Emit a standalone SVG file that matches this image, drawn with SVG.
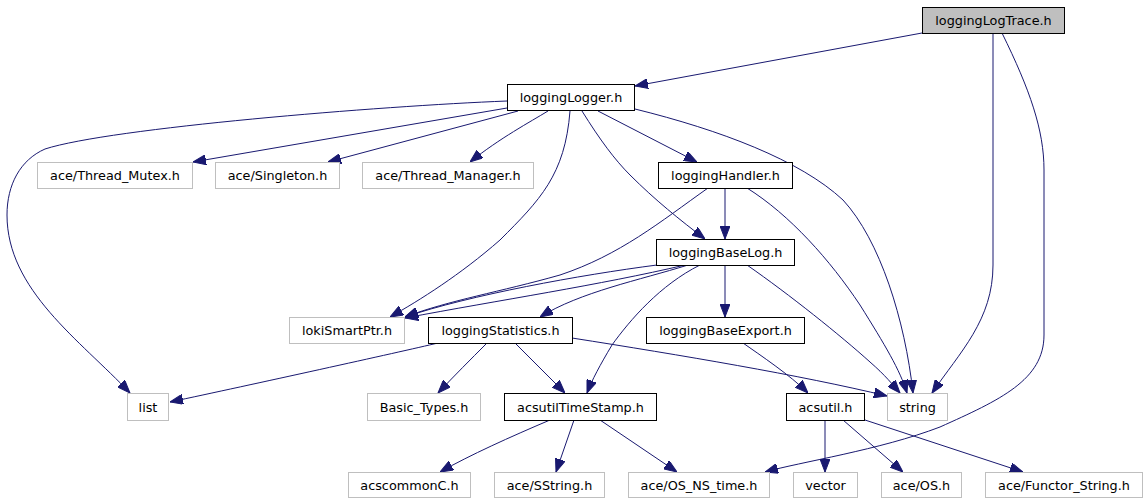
<svg xmlns="http://www.w3.org/2000/svg" width="1148" height="504" viewBox="0 0 1148 504">
<style>
.n rect{fill:#fff;stroke:#000;stroke-width:1}
.u rect{fill:#fff;stroke:#bfbfbf;stroke-width:1}
.r rect{fill:#bfbfbf;stroke:#000;stroke-width:1}
text{font-family:"DejaVu Sans",sans-serif;font-size:12.8px;fill:#000;text-anchor:middle}
#edges path{fill:none;stroke:#191970;stroke-width:1;marker-end:url(#a)}
</style>
<defs>
<marker id="a" markerUnits="userSpaceOnUse" markerWidth="13" markerHeight="10" refX="13" refY="5" orient="auto">
<path d="M0,0 L13,5 L0,10 z" fill="#191970" stroke="#191970" stroke-width="1"/>
</marker>
</defs>
<rect width="1148" height="504" fill="#fff"/>
<g id="edges">
<path d="M922,33 L635,86"/>
<path d="M993,33 L993,265 C993,320 960,352 932,393"/>
<path d="M1002,33 C1030,90 1044,130 1044,170 L1044,335 C1044,380 1000,400 940,427 C880,450 800,462 765,472"/>
<path d="M507,101 C380,106 110,128 45,149 C20,160 7,185 7,215 C7,290 80,340 130,393"/>
<path d="M507,108 L193,162"/>
<path d="M518,111 L328,162"/>
<path d="M548,111 C530,122 500,138 470,162"/>
<path d="M570,111 C565,175 540,200 500,240 C460,275 420,300 390,317"/>
<path d="M582,111 C600,140 615,160 630,175 C655,200 680,220 705,239"/>
<path d="M598,111 L697,162"/>
<path d="M635,109 C720,130 800,160 843,200 C880,240 905,320 913,393"/>
<path d="M725,188 L725,239"/>
<path d="M708,188 C660,222 620,255 560,275 C500,292 450,300 405,317"/>
<path d="M747,188 C790,215 830,260 860,305 C885,345 900,370 907,393"/>
<path d="M657,265 C580,275 470,295 405,317"/>
<path d="M685,265 C600,285 500,300 405,318"/>
<path d="M688,265 C640,280 580,292 540,317"/>
<path d="M700,265 C660,285 630,320 612,345 C600,365 592,380 587,393"/>
<path d="M725,265 L725,317"/>
<path d="M747,265 C790,295 840,335 870,362 C885,375 893,385 900,393"/>
<path d="M438,343 C400,352 250,385 170,402"/>
<path d="M487,343 C470,360 455,375 438,393"/>
<path d="M515,343 L565,393"/>
<path d="M572,338 C680,355 800,375 887,396"/>
<path d="M743,343 C760,355 790,375 808,393"/>
<path d="M550,420 C510,437 470,455 440,472"/>
<path d="M574,420 L556,472"/>
<path d="M600,420 L677,472"/>
<path d="M825,420 L825,472"/>
<path d="M843,420 L903,472"/>
<path d="M865,420 L1023,472"/>
</g>
<g id="loggingLogTrace" class="r"><rect x="922.5" y="7.5" width="142" height="26"/><text x="993.5" y="25">loggingLogTrace.h</text></g>
<g id="loggingLogger" class="n"><rect x="507.5" y="84.5" width="127" height="26"/><text x="571" y="102">loggingLogger.h</text></g>
<g id="threadMutex" class="u"><rect x="37.5" y="162.5" width="155" height="26"/><text x="115" y="180">ace/Thread_Mutex.h</text></g>
<g id="singleton" class="u"><rect x="215.5" y="162.5" width="124" height="26"/><text x="277.5" y="180">ace/Singleton.h</text></g>
<g id="threadManager" class="u"><rect x="362.5" y="162.5" width="171" height="26"/><text x="448" y="180">ace/Thread_Manager.h</text></g>
<g id="loggingHandler" class="n"><rect x="658.5" y="162.5" width="134" height="26"/><text x="725.5" y="180">loggingHandler.h</text></g>
<g id="loggingBaseLog" class="n"><rect x="656.5" y="239.5" width="138" height="26"/><text x="725.5" y="257">loggingBaseLog.h</text></g>
<g id="lokiSmartPtr" class="u"><rect x="289.5" y="317.5" width="115" height="26"/><text x="347" y="335">lokiSmartPtr.h</text></g>
<g id="loggingStatistics" class="n"><rect x="428.5" y="317.5" width="144" height="26"/><text x="500.5" y="335">loggingStatistics.h</text></g>
<g id="loggingBaseExport" class="n"><rect x="646.5" y="317.5" width="158" height="26"/><text x="725.5" y="335">loggingBaseExport.h</text></g>
<g id="list" class="u"><rect x="127.5" y="393.5" width="41" height="27"/><text x="148" y="412">list</text></g>
<g id="basicTypes" class="u"><rect x="367.5" y="393.5" width="113" height="27"/><text x="424" y="412">Basic_Types.h</text></g>
<g id="acsutilTimeStamp" class="n"><rect x="504.5" y="393.5" width="152" height="27"/><text x="580.5" y="412">acsutilTimeStamp.h</text></g>
<g id="acsutil" class="n"><rect x="786.5" y="393.5" width="78" height="27"/><text x="825.5" y="412">acsutil.h</text></g>
<g id="string" class="u"><rect x="887.5" y="393.5" width="60" height="27"/><text x="917.5" y="412">string</text></g>
<g id="acscommonC" class="u"><rect x="348.5" y="472.5" width="122" height="25"/><text x="409.5" y="490">acscommonC.h</text></g>
<g id="sstring" class="u"><rect x="494.5" y="472.5" width="110" height="25"/><text x="549.5" y="490">ace/SString.h</text></g>
<g id="osNsTime" class="u"><rect x="628.5" y="472.5" width="141" height="25"/><text x="699" y="490">ace/OS_NS_time.h</text></g>
<g id="vector" class="u"><rect x="793.5" y="472.5" width="64" height="25"/><text x="825.5" y="490">vector</text></g>
<g id="os" class="u"><rect x="881.5" y="472.5" width="80" height="25"/><text x="921.5" y="490">ace/OS.h</text></g>
<g id="functorString" class="u"><rect x="985.5" y="472.5" width="157" height="25"/><text x="1064" y="490">ace/Functor_String.h</text></g>
</svg>
